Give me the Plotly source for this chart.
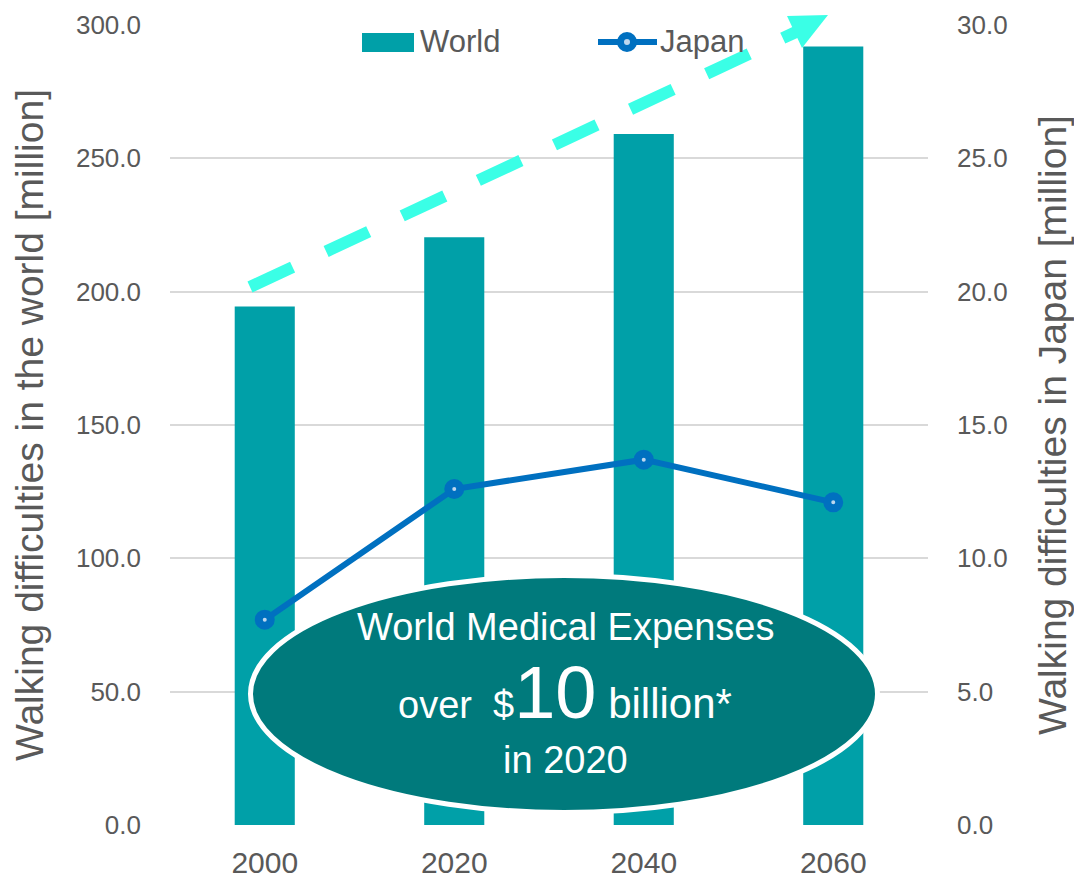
import plotly.graph_objects as go

# ---- data ----
years = ["2000", "2020", "2040", "2060"]
world = [194.4, 220.4, 259.1, 291.9]
japan = [7.7, 12.6, 13.7, 12.1]
y_ticks = [0, 50, 100, 150, 200, 250, 300]
y2_ticks = [0, 5, 10, 15, 20, 25, 30]

# ---- layout geometry (pixels) ----
W, H = 1074, 882
L, R, T, B = 170, 146, 25, 57
PW, PH = W - L - R, H - T - B


def px(x):
    return (x - L) / PW


def py(y):
    return (H - B - y) / PH


BAR = "#00A0A8"
BLUE = "#0070C0"
LIGHT = "#BDD7EE"
GREY = "#595959"
ARROW = "#3AFFE6"
ELL = "#007A7C"
FONT = "Liberation Sans, Arial, sans-serif"

fig = go.Figure()
fig.add_trace(go.Bar(x=years, y=world, name="World", marker_color=BAR,
                     marker_line_width=0, showlegend=False))
fig.add_trace(go.Scatter(x=years, y=japan, name="Japan", yaxis="y2",
                         mode="lines+markers",
                         line=dict(color=BLUE, width=6),
                         marker=dict(size=12, color=LIGHT,
                                     line=dict(color=BLUE, width=8)),
                         showlegend=False))

shapes = []
# dashed trend arrow
shapes.append(dict(type="line", xref="paper", yref="paper",
                   x0=px(250), y0=py(287), x1=px(796), y1=py(32),
                   line=dict(color=ARROW, width=12, dash="47px,37px"),
                   layer="above"))
shapes.append(dict(type="path", xref="paper", yref="paper",
                   path=f"M {px(787)},{py(16)} L {px(828)},{py(15)} L {px(802)},{py(48)} Z",
                   fillcolor=ARROW, line=dict(width=0), layer="above"))
# ellipse callout
shapes.append(dict(type="circle", xref="paper", yref="paper",
                   x0=px(250.5), x1=px(877.5), y0=py(812.5), y1=py(575.5),
                   fillcolor=ELL, line=dict(color="white", width=5),
                   layer="above"))
# custom legend
shapes.append(dict(type="rect", xref="paper", yref="paper",
                   x0=px(362), x1=px(414), y0=py(52), y1=py(33),
                   fillcolor=BAR, line=dict(width=0)))
shapes.append(dict(type="line", xref="paper", yref="paper",
                   x0=px(598), x1=px(657), y0=py(42), y1=py(42),
                   line=dict(color=BLUE, width=6)))
shapes.append(dict(type="circle", xref="paper", yref="paper",
                   x0=px(620.5), x1=px(633.5), y0=py(48.5), y1=py(35.5),
                   fillcolor=LIGHT, line=dict(color=BLUE, width=7)))

annotations = [
    dict(text="World", x=px(418), y=py(41), xref="paper", yref="paper",
         xanchor="left", yanchor="middle", showarrow=False,
         font=dict(family=FONT, size=31, color=GREY)),
    dict(text="Japan", x=px(658), y=py(41), xref="paper", yref="paper",
         xanchor="left", yanchor="middle", showarrow=False,
         font=dict(family=FONT, size=31, color=GREY)),
    dict(text="World Medical Expenses", x=px(565), y=py(627),
         xref="paper", yref="paper", xanchor="center", yanchor="middle",
         showarrow=False, font=dict(family=FONT, size=38, color="white")),
    dict(text="over\u00a0\u00a0$<span style='font-size:74px'>10</span>"
              "<span style='font-size:42px'>\u00a0billion*</span>",
         x=px(565), y=py(692), xref="paper", yref="paper",
         xanchor="center", yanchor="middle", showarrow=False,
         font=dict(family=FONT, size=38, color="white")),
    dict(text="in 2020", x=px(565), y=py(760), xref="paper", yref="paper",
         xanchor="center", yanchor="middle", showarrow=False,
         font=dict(family=FONT, size=38, color="white")),
]

fig.update_layout(
    width=W, height=H,
    margin=dict(l=L, r=R, t=T, b=B, pad=0, autoexpand=False),
    paper_bgcolor="white", plot_bgcolor="white",
    bargap=0.683,
    showlegend=False,
    shapes=shapes,
    annotations=annotations,
    xaxis=dict(type="category", showgrid=False, zeroline=False,
               showline=False, ticks="", ticklabelstandoff=17,
               automargin=False,
               tickfont=dict(family=FONT, size=30, color=GREY)),
    yaxis=dict(range=[0, 300], tickvals=y_ticks, tickformat=".1f",
               showgrid=True, gridcolor="#D9D9D9", gridwidth=2,
               zeroline=False, showline=False, ticks="",
               ticklabelstandoff=28, automargin=False,
               tickfont=dict(family=FONT, size=26, color=GREY),
               title=dict(text="Walking difficulties in the world [million]",
                          font=dict(family=FONT, size=39, color=GREY),
                          standoff=20)),
    yaxis2=dict(range=[0, 30], tickvals=y2_ticks, tickformat=".1f",
                overlaying="y", side="right", showgrid=False,
                zeroline=False, showline=False, ticks="",
                ticklabelstandoff=28, automargin=False,
                tickfont=dict(family=FONT, size=26, color=GREY),
                title=dict(text="Walking difficulties in Japan [million]",
                           font=dict(family=FONT, size=39, color=GREY),
                           standoff=36)),
)

fig.write_html("out.html")
